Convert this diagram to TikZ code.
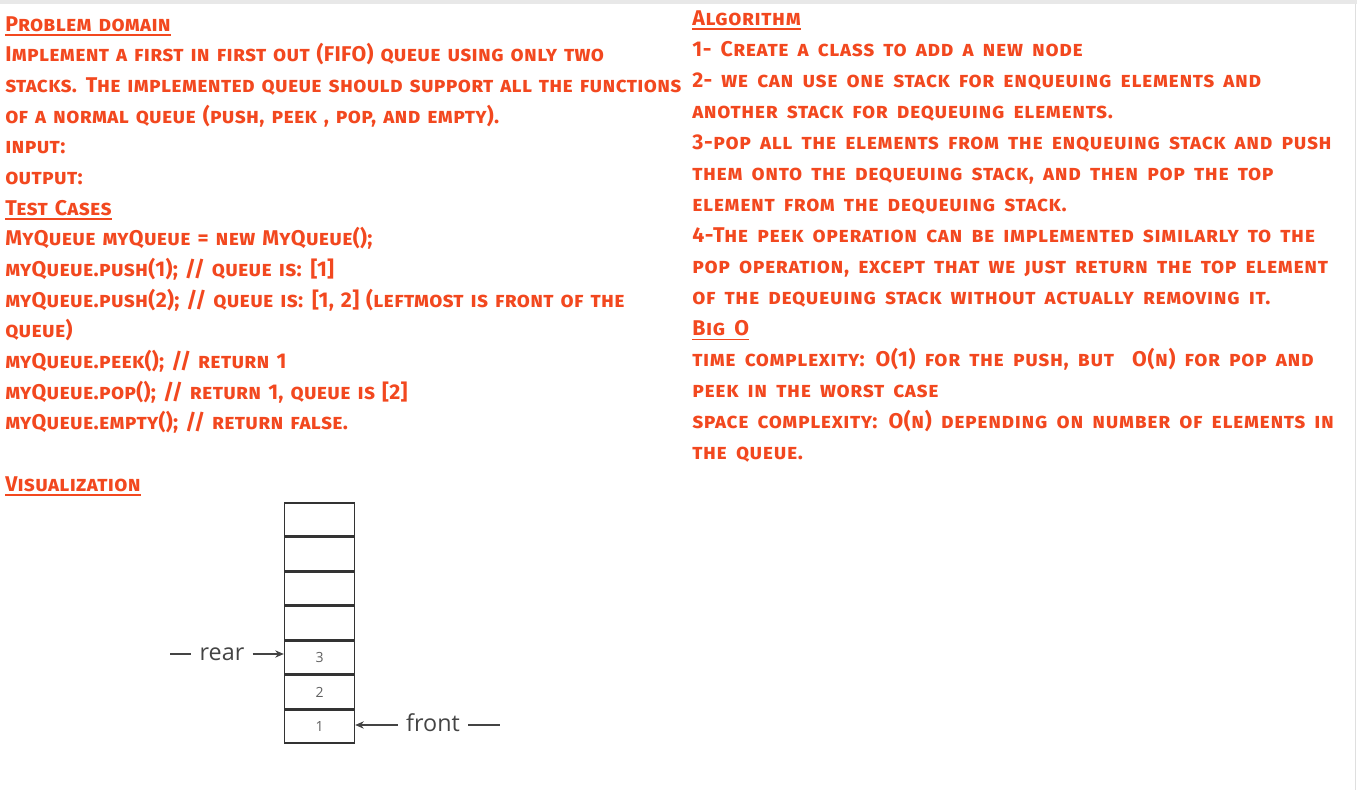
\documentclass[tikz,border=0pt]{standalone}
\usepackage{fontspec}
\setmainfont{Fira Sans}[LetterSpace=3.0, WordSpace=1.6]
\newfontfamily\leftnotesfont{Fira Sans}[LetterSpace=1.5, WordSpace=1.3]
\newfontfamily\labelfont{Open Sans}
\usetikzlibrary{arrows.meta,positioning}
\definecolor{ink}{HTML}{F2481F}
\definecolor{boxline}{HTML}{333333}
\definecolor{labelgray}{HTML}{444444}
\newsavebox{\headbox}
\newcommand{\heading}[1]{\sbox{\headbox}{#1}\rlap{\rule[-3.5pt]{\wd\headbox}{1.4pt}}\usebox{\headbox}}

\begin{document}
\begin{tikzpicture}[x=0.75pt, y=-0.75pt, node distance=0.125pt, >={Stealth[length=6.5pt,width=5.5pt]},
    notes/.style={anchor=north west, align=left, inner sep=0pt, text=ink,
        font=\fontsize{16}{23.3}\selectfont\bfseries\scshape},
    cell/.style={draw=boxline, line width=1pt, minimum width=52.5pt, minimum height=24.75pt,
        inner sep=0pt, text=labelgray!85, font=\labelfont\fontsize{10.5}{10.5}\selectfont},
    pointer/.style={font=\labelfont\fontsize{17.5}{17.5}\selectfont, text=labelgray,
        inner xsep=6pt, inner ysep=0pt, text height=9pt, text depth=0pt}]

    \useasboundingbox (0,0) rectangle (1357,802);

    % Page edge
    \fill[gray!18] (0,0) rectangle (1357,4);
    \draw[gray!25] (1355.5,4) -- (1355.5,790);

    % Left column
    \node[notes, font=\leftnotesfont\fontsize{16}{23}\selectfont\bfseries\scshape] (problem) at (5,16) {\heading{Problem domain}\\
        Implement a first in first out (FIFO) queue using only two\\
        stacks. The implemented queue should support all the functions\\
        of a normal queue (push, peek , pop, and empty).\\
        input:\\
        output:\\
        \heading{Test Cases}\\
        MyQueue myQueue = new MyQueue();\\
        myQueue.push(1); // queue is: [1]\\
        myQueue.push(2); // queue is: [1, 2] (leftmost is front of the\\
        queue)\\
        myQueue.peek(); // return 1\\
        myQueue.pop(); // return 1, queue is [2]\\
        myQueue.empty(); // return false.\\
        \mbox{}\\
        \heading{Visualization}};

    % Right column
    \node[notes] (algorithm) at (692,10) {\heading{Algorithm}\\
        1- Create a class to add a new node\\
        2- we can use one stack for enqueuing elements and\\
        another stack for dequeuing elements.\\
        3-pop all the elements from the enqueuing stack and push\\
        them onto the dequeuing stack, and then pop the top\\
        element from the dequeuing stack.\\
        4-The peek operation can be implemented similarly to the\\
        pop operation, except that we just return the top element\\
        of the dequeuing stack without actually removing it.\\
        \heading{Big O}\\
        time complexity: O(1) for the push, but\ \ O(n) for pop and\\
        peek in the worst case\\
        space complexity: O(n) depending on number of elements in\\
        the queue.};

    % Stack cells
    \node[cell] (c7) at (319.5,519.5) {};
    \node[cell] (c6) [below=of c7] {};
    \node[cell] (c5) [below=of c6] {};
    \node[cell] (c4) [below=of c5] {};
    \node[cell] (c3) [below=of c4] {3};
    \node[cell] (c2) [below=of c3] {2};
    \node[cell] (c1) [below=of c2] {1};

    % Pointers
    \node[pointer] (rear) at (222,654) {rear};
    \node[pointer] (front) at (433,725) {front};
    \coordinate (rearTail) at (170,654);
    \coordinate (frontTail) at (500,725);

    \draw[labelgray, line width=0.9pt] (rearTail) -- (rear.west);
    \draw[labelgray, line width=0.9pt, ->] (rear.east) -- (rear.east -| c3.west);
    \draw[labelgray, line width=0.9pt, ->] (front.west) -- (front.west -| c1.east);
    \draw[labelgray, line width=0.9pt] (front.east) -- (frontTail);

\end{tikzpicture}
\end{document}
